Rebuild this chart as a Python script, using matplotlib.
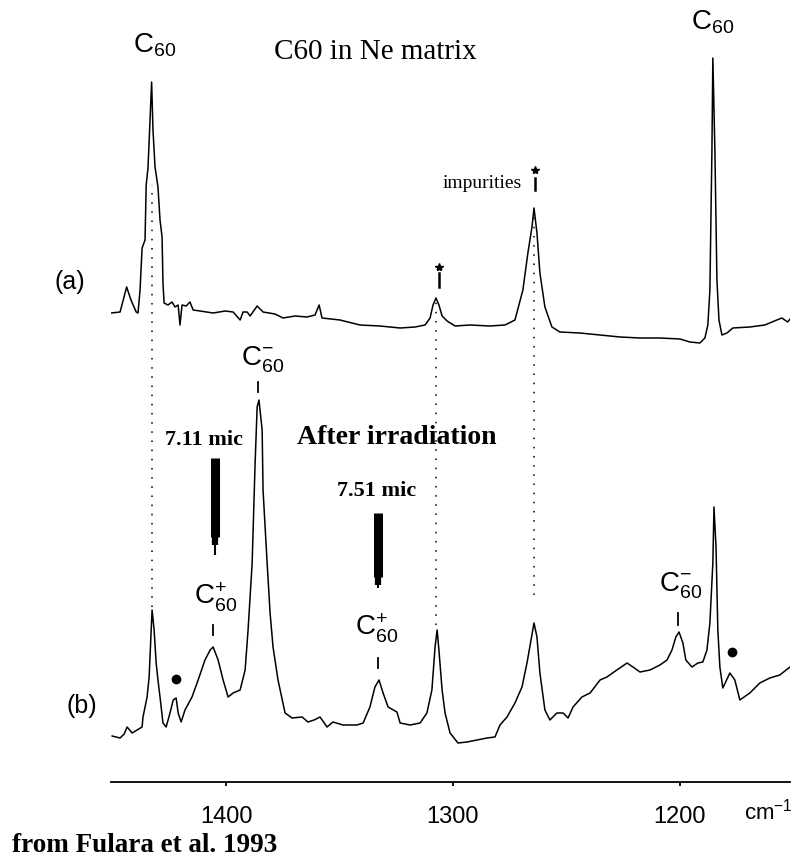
import matplotlib

matplotlib.use("Agg")
import matplotlib.pyplot as plt
import numpy as np

plt.rcParams["font.family"] = ["Liberation Sans", "DejaVu Sans"]
plt.rcParams["mathtext.fontset"] = "custom"
plt.rcParams["mathtext.rm"] = "Liberation Sans"
plt.rcParams["mathtext.it"] = "Liberation Sans:italic"
plt.rcParams["mathtext.bf"] = "Liberation Sans:bold"
SERIF = "Liberation Serif"

# (a) C60 in Ne matrix, absorbance above its own baseline (a.u.)
wn_a = [1450.7, 1446.7, 1443.8, 1441.9, 1439.6, 1438.8, 1437.9, 1437.0, 1435.7, 1435.2,
        1434.4, 1433.5, 1432.8, 1432.2, 1431.3, 1430.0, 1429.1, 1428.2, 1427.8, 1427.3,
        1425.6, 1423.8, 1422.5, 1421.1, 1420.3, 1419.4, 1417.6, 1415.9, 1414.5, 1411.5,
        1405.7, 1400.4, 1396.9, 1393.8, 1392.5, 1390.7, 1389.4, 1386.3, 1383.7, 1378.4,
        1374.9, 1369.6, 1364.3, 1360.8, 1359.0, 1357.7, 1349.8, 1341.0, 1332.2, 1323.3,
        1316.7, 1312.3, 1310.1, 1308.8, 1307.5, 1306.2, 1304.8, 1302.6, 1299.1, 1292.5,
        1283.7, 1277.1, 1272.7, 1269.2, 1267.0, 1265.2, 1264.3, 1263.0, 1261.7, 1259.5,
        1256.4, 1252.9, 1244.1, 1235.2, 1226.4, 1217.6, 1208.8, 1200.0, 1195.6, 1191.2,
        1189.0, 1187.7, 1186.8, 1185.9, 1185.5, 1184.6, 1183.7, 1182.8, 1181.5, 1179.3,
        1176.7, 1169.2, 1162.6, 1157.3, 1155.1, 1152.5, 1151.5]
abs_a = [0.12, 0.13, 0.38, 0.25, 0.13, 0.12, 0.35, 0.77, 0.85, 1.40,
         1.57, 2.05, 2.43, 1.95, 1.58, 1.38, 1.05, 0.88, 0.42, 0.22,
         0.20, 0.23, 0.18, 0.20, 0.00, 0.20, 0.19, 0.23, 0.15, 0.14,
         0.12, 0.14, 0.13, 0.05, 0.13, 0.13, 0.09, 0.19, 0.13, 0.11,
         0.07, 0.09, 0.08, 0.10, 0.20, 0.07, 0.05, 0.00, -0.01, -0.03,
         -0.02, 0.00, 0.07, 0.20, 0.27, 0.20, 0.09, 0.04, -0.01, 0.00,
         -0.01, 0.00, 0.05, 0.35, 0.72, 0.98, 1.17, 0.92, 0.52, 0.18,
         -0.02, -0.07, -0.08, -0.10, -0.12, -0.13, -0.13, -0.14, -0.17, -0.18,
         -0.13, 0.00, 0.35, 1.75, 2.67, 1.75, 0.45, 0.05, -0.10, -0.08,
         -0.03, -0.02, 0.00, 0.05, 0.07, 0.03, 0.06]

# (b) after irradiation
wn_b = [1450.2, 1446.7, 1444.9, 1443.6, 1441.4, 1439.2, 1437.0, 1436.6, 1434.8, 1433.9,
        1433.0, 1432.6, 1431.7, 1430.8, 1430.0, 1429.1, 1427.8, 1426.4, 1424.7, 1423.3,
        1422.0, 1421.1, 1419.8, 1418.1, 1415.0, 1412.3, 1409.3, 1407.0, 1405.7, 1403.5,
        1401.3, 1399.1, 1396.9, 1393.8, 1391.6, 1390.3, 1388.5, 1387.2, 1386.3, 1385.5,
        1384.1, 1383.7, 1381.9, 1380.6, 1379.3, 1377.1, 1374.0, 1370.9, 1366.5, 1363.9,
        1361.2, 1358.6, 1355.5, 1352.9, 1348.5, 1342.3, 1339.6, 1336.6, 1334.4, 1332.6,
        1330.8, 1328.6, 1324.7, 1323.3, 1318.9, 1314.5, 1311.5, 1309.3, 1307.9, 1307.0,
        1306.2, 1304.8, 1303.5, 1301.3, 1297.8, 1293.8, 1289.4, 1285.0, 1281.5, 1279.3,
        1276.2, 1272.7, 1269.6, 1267.4, 1265.6, 1264.3, 1263.0, 1261.7, 1259.5, 1257.3,
        1254.2, 1251.5, 1249.3, 1247.1, 1243.2, 1239.6, 1235.2, 1232.2, 1227.8, 1223.3,
        1220.7, 1217.6, 1213.2, 1208.8, 1205.7, 1203.5, 1201.8, 1200.4, 1198.7, 1197.4,
        1194.7, 1192.1, 1189.9, 1188.1, 1186.8, 1185.5, 1185.0, 1184.1, 1183.3, 1182.4,
        1181.1, 1178.0, 1175.8, 1173.6, 1169.2, 1164.8, 1160.4, 1156.0, 1151.5]
abs_b = [-0.11, -0.13, -0.09, -0.02, -0.08, -0.05, -0.02, 0.08, 0.28, 0.48,
         0.95, 1.15, 0.95, 0.62, 0.45, 0.28, 0.02, -0.02, 0.12, 0.25,
         0.27, 0.12, 0.03, 0.15, 0.28, 0.45, 0.65, 0.75, 0.78, 0.65,
         0.45, 0.28, 0.32, 0.35, 0.55, 0.95, 1.62, 2.62, 3.18, 3.25,
         2.95, 2.35, 1.62, 1.12, 0.78, 0.45, 0.12, 0.07, 0.08, 0.03,
         0.05, 0.08, -0.02, 0.03, 0.00, 0.00, 0.02, 0.18, 0.38, 0.45,
         0.32, 0.18, 0.13, 0.02, 0.00, 0.02, 0.12, 0.35, 0.78, 0.95,
         0.75, 0.35, 0.12, -0.08, -0.18, -0.17, -0.15, -0.13, -0.12, 0.00,
         0.08, 0.22, 0.38, 0.62, 0.85, 1.02, 0.88, 0.52, 0.15, 0.05,
         0.12, 0.12, 0.07, 0.18, 0.28, 0.32, 0.45, 0.48, 0.55, 0.62,
         0.58, 0.53, 0.55, 0.60, 0.65, 0.75, 0.88, 0.93, 0.82, 0.65,
         0.58, 0.62, 0.63, 0.75, 1.02, 1.62, 2.18, 1.78, 0.95, 0.58,
         0.37, 0.52, 0.45, 0.25, 0.32, 0.42, 0.47, 0.50, 0.58]

tick_pos = [1400, 1300, 1200]
tick_labels = ["1400", "1300", "1200"]

# bands that appear in both spectra (dotted guides)
link_wn = [1432.6, 1307.3, 1264.3]
# impurity marks
star_wn_a = [1306.2, 1263.9]
star_wn_b = [1422.0, 1177.1]
# laser lines
arrow_wn = [1404.8, 1333.0]
arrow_labels = ["7.11 mic", "7.51 mic"]

OFFSET_A = 4.57
OFFSET_B = 0.57

fig = plt.figure(figsize=(8, 8.61), dpi=100)
ax = fig.add_axes([111 / 800, 1 - 782 / 861, (790 - 111) / 800, 782 / 861])

ax.plot(wn_a, np.array(abs_a) + OFFSET_A, color="k", lw=1.1)
ax.plot(wn_b, np.array(abs_b) + OFFSET_B, color="k", lw=1.1)

link_top = [5.97, 4.82, 5.67]
link_bot = [1.75, 1.57, 1.87]
for w, y0, y1 in zip(link_wn, link_bot, link_top):
    ax.plot([w, w], [y0, y1], color="k", lw=1.1, linestyle=(0, (1, 5)))

# asterisks marking impurity bands
ax.plot(star_wn_a, [5.15, 6.12], ls="none", marker="*", ms=6, color="k")
for w, y0, y1 in zip(star_wn_a, [4.95, 5.92], [5.09, 6.04]):
    ax.plot([w, w], [y0, y1], color="k", lw=1.8)
ax.plot(star_wn_b, [1.03, 1.30], ls="none", marker="o", ms=6, color="k")

# thick arrows for the laser lines
arrow_top = [3.24, 2.69]
arrow_mid = [2.45, 2.05]
arrow_tip = [2.27, 1.94]
for w, yt, ym, yp in zip(arrow_wn, arrow_top, arrow_mid, arrow_tip):
    ax.plot([w, w], [yt, ym], color="k", lw=6.5, solid_capstyle="butt")
    ax.plot([w, w], [ym, ym - 0.08], color="k", lw=4.5, solid_capstyle="butt")
    ax.plot([w, w], [ym - 0.08, yp], color="k", lw=1.5, solid_capstyle="butt")
ax.text(1409.7, 3.42, arrow_labels[0], ha="center", va="center",
        family=SERIF, fontweight="bold", fontsize=16)
ax.text(1333.5, 2.91, arrow_labels[1], ha="center", va="center",
        family=SERIF, fontweight="bold", fontsize=16)

# species labels
lab_kw = dict(ha="center", va="center", fontsize=20)
ax.text(1431.3, 7.37, "C$_{60}$", **lab_kw)
ax.text(1185.5, 7.60, "C$_{60}$", **lab_kw)
ax.text(1383.7, 4.22, "C$_{60}^{-}$", **lab_kw)
ax.text(1404.4, 1.85, "C$_{60}^{+}$", **lab_kw)
ax.text(1333.5, 1.54, "C$_{60}^{+}$", **lab_kw)
ax.text(1199.6, 1.96, "C$_{60}^{-}$", **lab_kw)
for w, y0, y1 in [(1385.9, 3.90, 4.00), (1405.7, 1.47, 1.57),
                  (1333.0, 1.14, 1.24), (1200.9, 1.57, 1.69)]:
    ax.plot([w, w], [y0, y1], color="k", lw=1.3)

ax.text(1334.4, 7.30, "C60 in Ne matrix", ha="center", va="center",
        family=SERIF, fontsize=21)
ax.text(1269.5, 5.99, "impurities", ha="right", va="center",
        family=SERIF, fontsize=14)
ax.text(1324.7, 3.44, "After irradiation", ha="center", va="center",
        family=SERIF, fontweight="bold", fontsize=20)

fig.text(70 / 800, 1 - 282 / 861, "(a)", ha="center", va="center", fontsize=18)
fig.text(82 / 800, 1 - 706 / 861, "(b)", ha="center", va="center", fontsize=18)
fig.text(768 / 800, 1 - 812 / 861, "cm$^{-1}$", ha="center", va="center", fontsize=16)
fig.text(12 / 800, 1 - 845 / 861, "from Fulara et al. 1993", ha="left", va="center",
         family=SERIF, fontweight="bold", fontsize=19.5)

ax.set_xlim(1450.7, 1151.5)
ax.set_ylim(0, 7.82)
for side in ["left", "right", "top"]:
    ax.spines[side].set_visible(False)
ax.spines["bottom"].set_linewidth(1.3)
ax.set_yticks([])
ax.set_xticks(tick_pos)
ax.set_xticklabels(tick_labels)
ax.tick_params(axis="x", direction="out", length=3, width=1.3, pad=14, labelsize=17)

fig.savefig("out.png", dpi=100)
